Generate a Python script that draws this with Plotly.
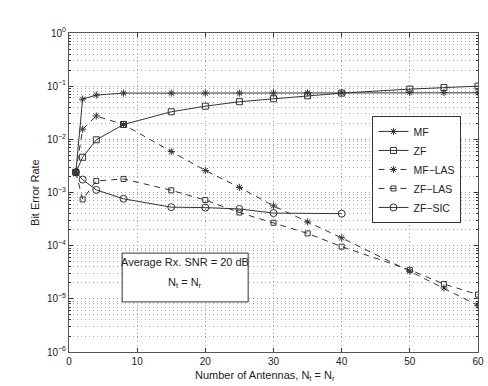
import plotly.graph_objects as go

# Bit error rate vs number of antennas (Nt = Nr), avg Rx SNR = 20 dB
x_all = [1, 2, 4, 8, 15, 20, 25, 30, 35, 40, 50, 55, 60]
x_sic = [1, 2, 4, 8, 15, 20, 25, 30, 40]

ber_mf = [2.4e-3, 0.057, 0.068, 0.074, 0.074, 0.074, 0.074, 0.074, 0.075, 0.075, 0.076, 0.076, 0.075]
ber_zf = [2.4e-3, 4.6e-3, 9.8e-3, 0.019, 0.033, 0.042, 0.051, 0.058, 0.066, 0.074, 0.088, 0.094, 0.10]
ber_mf_las = [2.4e-3, 0.0155, 0.0275, 0.019, 5.9e-3, 2.6e-3, 1.25e-3, 5.6e-4, 2.8e-4, 1.4e-4, 3.3e-5, 1.6e-5, 7.5e-6]
ber_zf_las = [2.4e-3, 7.4e-4, 1.65e-3, 1.8e-3, 1.1e-3, 7.2e-4, 4.2e-4, 2.7e-4, 1.7e-4, 9.6e-5, 3.5e-5, 1.9e-5, 1.2e-5]
ber_zf_sic = [2.4e-3, 1.75e-3, 1.12e-3, 7.6e-4, 5.3e-4, 5.2e-4, 4.9e-4, 4.1e-4, 4.0e-4]

INK = "#333333"
TXT = "#222222"
FONT = "Liberation Sans, Arial, sans-serif"

fig = go.Figure()

def add(name, xs, ys, symbol, dash, size):
    fig.add_trace(go.Scatter(
        x=xs, y=ys, name=name, mode="lines+markers",
        line=dict(color=INK, width=1, dash=dash),
        marker=dict(symbol=symbol, size=size, color=INK,
                    line=dict(color=INK, width=1)),
    ))

add("MF", x_all, ber_mf, "asterisk-open", "solid", 6)
add("ZF", x_all, ber_zf, "square-open", "solid", 6)
add("MF\u2212LAS", x_all, ber_mf_las, "asterisk-open", "6px,5px", 6)
add("ZF\u2212LAS", x_all, ber_zf_las, "square-open", "6px,5px", 5)
add("ZF\u2212SIC", x_sic, ber_zf_sic, "circle-open", "solid", 7)

major = [10.0 ** k for k in range(-6, 1)]
minor = [m * 10.0 ** k for k in range(-6, 0) for m in range(2, 10)]

fig.update_xaxes(
    range=[0, 60], dtick=10, ticks="inside", ticklen=4, tickcolor=INK,
    showline=True, linecolor="#555555", linewidth=1, mirror="allticks",
    showgrid=True, gridcolor="#a0a0a0", griddash="1px,3px", gridwidth=1,
    zeroline=False, tickfont=dict(size=10, color=TXT), automargin=False,
)
fig.update_yaxes(
    type="log", range=[-6, 0], tickvals=major,
    ticktext=["10<sup>\u2212%d</sup>" % k if k else "10<sup>0</sup>" for k in range(6, -1, -1)],
    ticks="inside", ticklen=4, tickcolor=INK,
    showline=True, linecolor="#555555", linewidth=1, mirror="allticks",
    showgrid=True, gridcolor="#a0a0a0", griddash="1px,3px", gridwidth=1,
    minor=dict(tickvals=minor, ticks="inside", ticklen=2, tickcolor=INK,
               showgrid=True, gridcolor="#ababab", griddash="1px,3px", gridwidth=1),
    zeroline=False, tickfont=dict(size=10, color=TXT), automargin=False,
)

# axis titles
fig.add_annotation(xref="paper", yref="paper", x=0.48, y=-0.075, yanchor="middle",
                   xanchor="center", showarrow=False,
                   text="Number of Antennas, N<sub>t</sub> = N<sub>r</sub>",
                   font=dict(size=11, color=TXT, family=FONT))
fig.add_annotation(xref="paper", yref="paper", x=-0.065, y=0.5, xanchor="right",
                   yanchor="middle", showarrow=False, textangle=-90,
                   text="Bit Error Rate", font=dict(size=11, color=TXT, family=FONT))

# text box
fig.add_shape(type="rect", xref="paper", yref="paper", x0=0.13, x1=0.438, y0=0.157, y1=0.31,
              line=dict(color=INK, width=1), fillcolor="white", layer="above")
fig.add_annotation(xref="paper", yref="paper", x=0.284, y=0.282, xanchor="center",
                   yanchor="middle", showarrow=False,
                   text="Average Rx. SNR = 20 dB", font=dict(size=11, color=TXT, family=FONT))
fig.add_annotation(xref="paper", yref="paper", x=0.284, y=0.216, xanchor="center",
                   yanchor="middle", showarrow=False,
                   text="N<sub>t</sub> = N<sub>r</sub>", font=dict(size=11, color=TXT, family=FONT))

fig.update_layout(
    width=488, height=386,
    margin=dict(l=69, r=10, t=33, b=34),
    paper_bgcolor="white", plot_bgcolor="white",
    font=dict(family=FONT, color=TXT),
    legend=dict(x=0.742, y=0.74, xanchor="left", yanchor="top",
                bordercolor=INK, borderwidth=1, bgcolor="white",
                font=dict(size=10.5), tracegroupgap=0, itemwidth=30),
    showlegend=True,
)

# page body has a default 8px margin; remove it so the chart sits at the corner
fig.write_html("out.html", config={"displayModeBar": False},
               post_script="document.body.style.margin='0';")
